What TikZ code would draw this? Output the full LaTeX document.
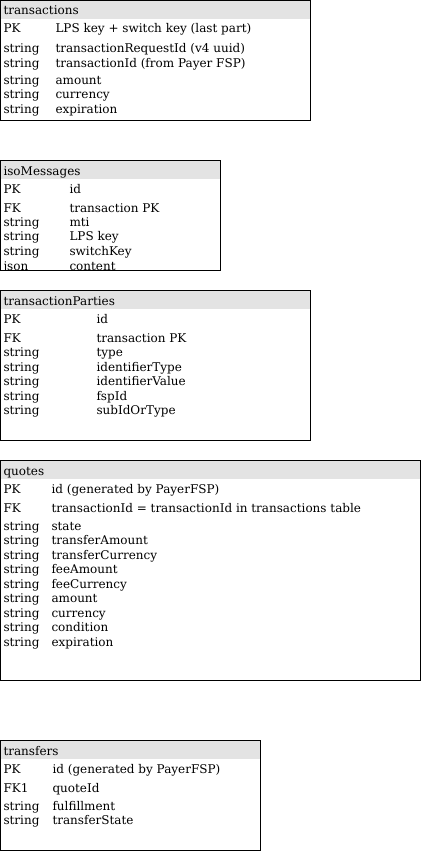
\documentclass[tikz,border=0pt]{standalone}
\usepackage{fontspec}
\setmainfont{DejaVu Serif}
\definecolor{hdrgray}{HTML}{E3E3E3}
\begin{document}
\begin{tikzpicture}[x=1pt, y=-1pt, line width=1pt,
    font=\fontsize{12}{14}\selectfont,
    cell/.style={anchor=base west, inner sep=0pt}]
    \useasboundingbox (0,0) rectangle (421,851);

    % transactions
    \fill[hdrgray] (0.5,0.5) rectangle (310,19);
    \draw (3,15) node[cell] (trTitle) {transactions};
    \draw (3,33) node[cell] (trPK) {PK};
    \draw (55,33) node[cell] (trPKa) {LPS key + switch key (last part)};
    \draw (3,52.5) node[cell] (trS1) {string};
    \draw (55,52.5) node[cell] (trA1) {transactionRequestId (v4 uuid)};
    \draw (3,67) node[cell] (trS2) {string};
    \draw (55,67) node[cell] (trA2) {transactionId (from Payer FSP)};
    \foreach \t [count=\i] in {amount, currency, expiration}
        \draw (3,{84.5+14.3*(\i-1)}) node[cell] (trT\i) {string}
              (55,{84.5+14.3*(\i-1)}) node[cell] (trB\i) {\t};
    \draw (0.5,0.5) rectangle (310,120);

    % isoMessages
    \fill[hdrgray] (0.5,160.5) rectangle (220,179);
    \begin{scope}
        \clip (0.5,160.5) rectangle (220,270);
        \draw (3,175) node[cell] (isoTitle) {isoMessages};
        \draw (3,193) node[cell] (isoPK) {PK};
        \draw (69,193) node[cell] (isoPKa) {id};
        \draw (3,212) node[cell] (isoFK) {FK};
        \draw (69,212) node[cell] (isoFKa) {transaction PK};
        \foreach \t [count=\i] in {mti, LPS key, switchKey}
            \draw (3,{226.5+14.4*(\i-1)}) node[cell] (isoS\i) {string}
                  (69,{226.5+14.4*(\i-1)}) node[cell] (isoA\i) {\t};
        \draw (3,270) node[cell] (isoJ) {json};
        \draw (69,270) node[cell] (isoJa) {content};
    \end{scope}
    \draw (0.5,160.5) rectangle (220,270);

    % transactionParties
    \fill[hdrgray] (0.5,290.5) rectangle (310,309);
    \draw (3,305) node[cell] (tpTitle) {transactionParties};
    \draw (3,323) node[cell] (tpPK) {PK};
    \draw (96,323) node[cell] (tpPKa) {id};
    \draw (3,342) node[cell] (tpFK) {FK};
    \draw (96,342) node[cell] (tpFKa) {transaction PK};
    \foreach \t [count=\i] in {type, identifierType, identifierValue, fspId, subIdOrType}
        \draw (3,{356.5+14.5*(\i-1)}) node[cell] (tpS\i) {string}
              (96,{356.5+14.5*(\i-1)}) node[cell] (tpA\i) {\t};
    \draw (0.5,290.5) rectangle (310,440);

    % quotes
    \fill[hdrgray] (0.5,460.5) rectangle (420,479);
    \draw (3,475) node[cell] (qTitle) {quotes};
    \draw (3,493) node[cell] (qPK) {PK};
    \draw (51,493) node[cell] (qPKa) {id (generated by PayerFSP)};
    \draw (3,512) node[cell] (qFK) {FK};
    \draw (51,512) node[cell] (qFKa) {transactionId = transactionId in transactions table};
    \foreach \t [count=\i] in {state, transferAmount, transferCurrency, feeAmount,
        feeCurrency, amount, currency, condition, expiration}
        \draw (3,{530+14.5*(\i-1)}) node[cell] (qS\i) {string}
              (51,{530+14.5*(\i-1)}) node[cell] (qA\i) {\t};
    \draw (0.5,460.5) rectangle (420,680);

    % transfers
    \fill[hdrgray] (0.5,740.5) rectangle (260,759);
    \draw (3,755) node[cell] (tfTitle) {transfers};
    \draw (3,773) node[cell] (tfPK) {PK};
    \draw (52,773) node[cell] (tfPKa) {id (generated by PayerFSP)};
    \draw (3,792) node[cell] (tfFK) {FK1};
    \draw (52,792) node[cell] (tfFKa) {quoteId};
    \draw (3,810) node[cell] (tfS1) {string};
    \draw (52,810) node[cell] (tfA1) {fulfillment};
    \draw (3,824.5) node[cell] (tfS2) {string};
    \draw (52,824.5) node[cell] (tfA2) {transferState};
    \draw (0.5,740.5) rectangle (260,850);
\end{tikzpicture}
\end{document}
